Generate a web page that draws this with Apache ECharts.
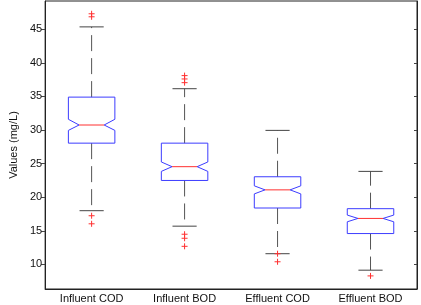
<!DOCTYPE html>
<html>
<head>
<meta charset="utf-8">
<script src="https://cdn.jsdelivr.net/npm/echarts@6/dist/echarts.min.js"></script>
<style>
  html, body { margin: 0; padding: 0; background: #fff; }
  #chart { width: 421px; height: 305px; }
</style>
</head>
<body>
<div id="chart"></div>
<script>
// box plot values (mg/L)
const categories = ['Influent COD', 'Influent BOD', 'Effluent COD', 'Effluent BOD'];
const lowerWhisker = [18.0, 15.7, 11.6, 9.15];
const q1 = [28.05, 22.5, 18.4, 14.6];
const notchLow = [29.95, 23.85, 20.5, 16.35];
const median = [30.75, 24.55, 21.1, 16.85];
const notchHigh = [31.6, 25.25, 21.7, 17.35];
const q3 = [34.9, 28.05, 23.05, 18.3];
const upperWhisker = [45.35, 36.15, 29.95, 23.85];
// outliers: [category index, value]
const outliers = [
  [0, 47.3], [0, 46.85], [0, 17.25], [0, 16.05],
  [1, 38.1], [1, 37.6], [1, 37.05], [1, 14.5], [1, 13.9], [1, 12.7],
  [2, 11.6], [2, 10.4],
  [3, 8.3]
];
const tickLabels = [10, 15, 20, 25, 30, 35, 40, 45];

const boxData = categories.map((c, i) => [
  i, lowerWhisker[i], q1[i], notchLow[i], median[i], notchHigh[i], q3[i], upperWhisker[i]
]);

const FONT = 'Liberation Sans, Arial, sans-serif';

function renderBox(params, api) {
  const i = api.value(0);
  const band = api.size([1, 0])[0];
  const y = v => api.coord([i, v])[1];
  const cx = api.coord([i, api.value(4)])[0];
  const hw = band * 0.25;      // box half width
  const nw = band * 0.135;     // notch inner half width
  const cw = band * 0.13;      // whisker cap half width
  const L = cx - hw, R = cx + hw;
  const yLw = y(api.value(1)), yQ1 = y(api.value(2)), yNl = y(api.value(3));
  const yMed = y(api.value(4)), yNh = y(api.value(5)), yQ3 = y(api.value(6)), yUw = y(api.value(7));
  const whisker = { stroke: '#555', lineWidth: 1, lineDash: [16, 7] };
  const cap = { stroke: '#444', lineWidth: 1 };
  return {
    type: 'group',
    children: [
      { type: 'line', shape: { x1: cx, y1: yQ3, x2: cx, y2: yUw }, style: whisker },
      { type: 'line', shape: { x1: cx, y1: yQ1, x2: cx, y2: yLw }, style: whisker },
      { type: 'line', shape: { x1: cx - cw, y1: yUw, x2: cx + cw, y2: yUw }, style: cap },
      { type: 'line', shape: { x1: cx - cw, y1: yLw, x2: cx + cw, y2: yLw }, style: cap },
      {
        type: 'polygon',
        shape: {
          points: [
            [L, yQ3], [R, yQ3], [R, yNh], [cx + nw, yMed], [R, yNl], [R, yQ1],
            [L, yQ1], [L, yNl], [cx - nw, yMed], [L, yNh]
          ]
        },
        style: { fill: 'none', stroke: '#3c3cff', lineWidth: 1 }
      },
      {
        type: 'line',
        shape: { x1: cx - nw, y1: yMed, x2: cx + nw, y2: yMed },
        style: { stroke: '#ff3030', lineWidth: 1 }
      }
    ]
  };
}

function renderPlus(params, api) {
  const p = api.coord([api.value(0), api.value(1)]);
  const s = 3;
  const st = { stroke: '#ff3030', lineWidth: 1 };
  return {
    type: 'group',
    children: [
      { type: 'line', shape: { x1: p[0] - s, y1: p[1], x2: p[0] + s, y2: p[1] }, style: st },
      { type: 'line', shape: { x1: p[0], y1: p[1] - s, x2: p[0], y2: p[1] + s }, style: st }
    ]
  };
}

const chart = echarts.init(document.getElementById('chart'));
const option = {
  animation: false,
  backgroundColor: '#fff',
  grid: {
    show: true,
    left: 33,
    right: 4,
    top: 1,
    bottom: 16,
    borderColor: '#222',
    borderWidth: 1
  },
  xAxis: {
    type: 'category',
    data: categories,
    boundaryGap: true,
    axisLine: { lineStyle: { color: '#222' } },
    axisTick: { show: false },
    axisLabel: { color: '#111', fontSize: 11, fontFamily: FONT, margin: 4 },
    splitLine: { show: false }
  },
  yAxis: [
    {
      type: 'value',
      min: 6.35,
      max: 49.2,
      name: 'Values (mg/L)',
      nameLocation: 'middle',
      nameGap: 25,
      nameTextStyle: { color: '#111', fontSize: 11, fontFamily: FONT },
      axisLine: { show: true, lineStyle: { color: '#222' } },
      axisTick: { show: true, customValues: tickLabels, length: 4, lineStyle: { color: '#444' } },
      axisLabel: { customValues: tickLabels, color: '#111', fontSize: 11, fontFamily: FONT, margin: 3 },
      splitLine: { show: false }
    },
    {
      type: 'value',
      position: 'right',
      min: 6.35,
      max: 49.2,
      axisLine: { show: true, lineStyle: { color: '#222' } },
      axisTick: { show: true, inside: true, customValues: tickLabels, length: 3, lineStyle: { color: '#444' } },
      axisLabel: { show: false },
      splitLine: { show: false }
    }
  ],
  series: [
    {
      type: 'custom',
      renderItem: renderBox,
      encode: { x: 0, y: [1, 2, 3, 4, 5, 6, 7] },
      data: boxData
    },
    {
      type: 'custom',
      renderItem: renderPlus,
      encode: { x: 0, y: 1 },
      data: outliers
    }
  ]
};
chart.setOption(option);
</script>
</body>
</html>
